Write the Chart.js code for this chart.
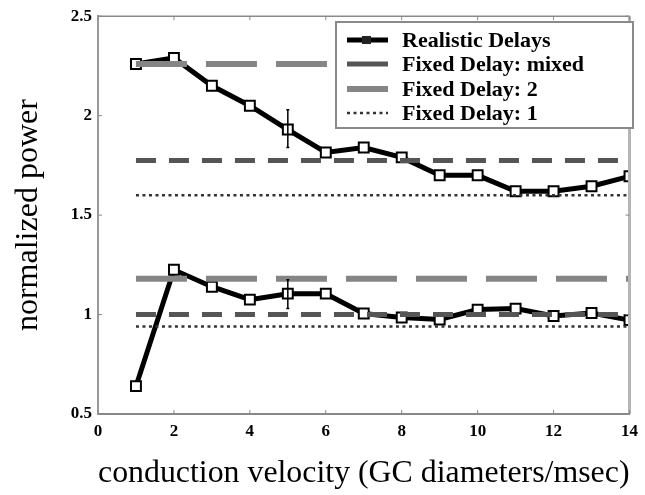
<!DOCTYPE html>
<html>
<head>
<meta charset="utf-8">
<script src="https://cdn.jsdelivr.net/npm/chart.js@4.4.0/dist/chart.umd.min.js"></script>
<style>
  html, body { margin: 0; padding: 0; background: #fff; }
</style>
</head>
<body>
<canvas id="chart" width="645" height="495"></canvas>
<script>
// conduction velocity values (x)
const velocity = [1, 2, 3, 4, 5, 6, 7, 8, 9, 10, 11, 12, 13, 14];

// realistic delays, two curves
const realisticUpper = [2.26, 2.29, 2.15, 2.05, 1.93, 1.815, 1.84, 1.79, 1.70, 1.70, 1.62, 1.62, 1.645, 1.695];
const realisticLower = [0.64, 1.225, 1.14, 1.075, 1.105, 1.105, 1.005, 0.985, 0.975, 1.025, 1.03, 0.993, 1.008, 0.972];

// fixed delay levels (upper curve, lower curve)
const fixedMixed = [1.775, 1.0];
const fixedTwo = [2.26, 1.18];
const fixedOne = [1.6, 0.94];

// error bar at v = 5 (low, high)
const errorX = 5;
const errorUpper = [1.84, 2.03];
const errorLower = [1.03, 1.175];

const legendLabels = ['Realistic Delays', 'Fixed Delay: mixed', 'Fixed Delay: 2', 'Fixed Delay: 1'];

const serif = '"Liberation Serif", "Times New Roman", serif';

function pts(ys) {
    return velocity.map((v, i) => ({ x: v, y: ys[i] }));
}
function flat(y) {
    return [{ x: velocity[0], y: y }, { x: velocity[velocity.length - 1], y: y }];
}

const realisticStyle = {
    borderColor: '#000', borderWidth: 5, pointStyle: 'rect', pointRadius: 7,
    pointBorderWidth: 2, pointBorderColor: '#000', pointBackgroundColor: '#fff', order: 5
};
const mixedStyle = { borderColor: '#555', borderWidth: 5, borderDash: [20, 13], pointRadius: 0, order: 2 };
const twoStyle = { borderColor: '#858585', borderWidth: 6, borderDash: [51, 19], pointRadius: 0, order: 3 };
const oneStyle = { borderColor: '#333', borderWidth: 2.5, borderDash: [3, 3.5], pointRadius: 0, order: 1 };

const datasets = [
    Object.assign({ label: legendLabels[0], data: pts(realisticUpper) }, realisticStyle),
    Object.assign({ label: legendLabels[0], data: pts(realisticLower) }, realisticStyle),
    Object.assign({ label: legendLabels[1], data: flat(fixedMixed[0]) }, mixedStyle),
    Object.assign({ label: legendLabels[1], data: flat(fixedMixed[1]) }, mixedStyle),
    Object.assign({ label: legendLabels[2], data: flat(fixedTwo[0]) }, twoStyle),
    Object.assign({ label: legendLabels[2], data: flat(fixedTwo[1]) }, twoStyle),
    Object.assign({ label: legendLabels[3], data: flat(fixedOne[0]) }, oneStyle),
    Object.assign({ label: legendLabels[3], data: flat(fixedOne[1]) }, oneStyle)
];

// frame + inward tick marks
const framePlugin = {
    id: 'frame',
    afterDraw(chart) {
        const { ctx, chartArea: a, scales } = chart;
        ctx.save();
        ctx.strokeStyle = '#8a8a8a';
        ctx.lineWidth = 1.5;
        ctx.beginPath();
        ctx.moveTo(a.left, a.top); ctx.lineTo(a.right, a.top);
        ctx.stroke();
        ctx.strokeStyle = '#b5b5b5';
        ctx.lineWidth = 3;
        ctx.beginPath();
        ctx.moveTo(a.right, a.top); ctx.lineTo(a.right, a.bottom);
        ctx.stroke();
        ctx.strokeStyle = '#888';
        ctx.lineWidth = 1;
        ctx.beginPath();
        scales.x.ticks.forEach(t => {
            const px = scales.x.getPixelForValue(t.value);
            ctx.moveTo(px, a.bottom); ctx.lineTo(px, a.bottom - 4);
            ctx.moveTo(px, a.top); ctx.lineTo(px, a.top + 4);
        });
        scales.y.ticks.forEach(t => {
            const py = scales.y.getPixelForValue(t.value);
            ctx.moveTo(a.left, py); ctx.lineTo(a.left + 4, py);
            ctx.moveTo(a.right, py); ctx.lineTo(a.right - 4, py);
        });
        ctx.stroke();
        ctx.restore();
    }
};

// vertical error bars at v = 5
const errorPlugin = {
    id: 'errorBars',
    afterDatasetsDraw(chart) {
        const { ctx, scales } = chart;
        const px = scales.x.getPixelForValue(errorX);
        ctx.save();
        ctx.strokeStyle = '#000';
        ctx.lineWidth = 1.5;
        [errorUpper, errorLower].forEach(r => {
            const y0 = scales.y.getPixelForValue(r[0]);
            const y1 = scales.y.getPixelForValue(r[1]);
            ctx.beginPath();
            ctx.moveTo(px, y0); ctx.lineTo(px, y1);
            ctx.moveTo(px - 1.5, y0); ctx.lineTo(px + 1.5, y0);
            ctx.moveTo(px - 1.5, y1); ctx.lineTo(px + 1.5, y1);
            ctx.stroke();
        });
        ctx.restore();
    }
};

// boxed legend inside the plot, top right
const legendPlugin = {
    id: 'boxLegend',
    afterDraw(chart) {
        const { ctx } = chart;
        const bx = 336, by = 22, bw = 297, bh = 106;
        ctx.save();
        ctx.fillStyle = '#fff';
        ctx.fillRect(bx, by, bw, bh);
        ctx.strokeStyle = '#8a8a8a';
        ctx.lineWidth = 2;
        ctx.strokeRect(bx, by, bw, bh);
        const rows = [40, 64, 89, 113];
        const styles = [chart.data.datasets[0], chart.data.datasets[2], chart.data.datasets[4], chart.data.datasets[6]];
        styles.forEach((ds, i) => {
            const y = rows[i];
            ctx.strokeStyle = ds.borderColor;
            ctx.lineWidth = ds.borderWidth;
            ctx.setLineDash(i === 3 ? ds.borderDash : []);
            ctx.beginPath();
            ctx.moveTo(347, y); ctx.lineTo(388, y);
            ctx.stroke();
            ctx.setLineDash([]);
            if (i === 0) {
                ctx.fillStyle = '#222';
                ctx.fillRect(362, y - 4, 9, 8);
            }
            ctx.fillStyle = '#000';
            ctx.font = 'bold 22px ' + serif;
            ctx.textBaseline = 'middle';
            ctx.textAlign = 'left';
            ctx.fillText(legendLabels[i], 402, y + 1);
        });
        ctx.restore();
    }
};

new Chart(document.getElementById('chart'), {
    type: 'line',
    data: { datasets: datasets },
    options: {
        responsive: false,
        animation: false,
        layout: { padding: { top: 15, right: 5, left: 0, bottom: 0 } },
        plugins: { legend: { display: false }, tooltip: { enabled: false } },
        scales: {
            x: {
                type: 'linear', min: 0, max: 14,
                grid: { display: false, drawTicks: false },
                border: { display: true, color: '#888', width: 2 },
                ticks: { stepSize: 2, padding: 7, color: '#000', font: { family: serif, size: 17, weight: 'bold' } },
                title: { display: true, text: 'conduction velocity (GC diameters/msec)', color: '#000',
                         padding: 2, font: { family: serif, size: 32, lineHeight: 1.2 } },
                afterFit(s) { s.height = 81; }
            },
            y: {
                min: 0.5, max: 2.5,
                grid: { display: false, drawTicks: false },
                border: { display: true, color: '#999', width: 2 },
                ticks: { stepSize: 0.5, padding: 6, color: '#000', font: { family: serif, size: 17, weight: 'bold' },
                         callback: v => String(v) },
                title: { display: true, text: 'normalized power', color: '#000',
                         padding: 9, font: { family: serif, size: 32, lineHeight: 1.2 } },
                afterFit(s) { s.width = 98; }
            }
        }
    },
    plugins: [errorPlugin, framePlugin, legendPlugin]
});
</script>
</body>
</html>
